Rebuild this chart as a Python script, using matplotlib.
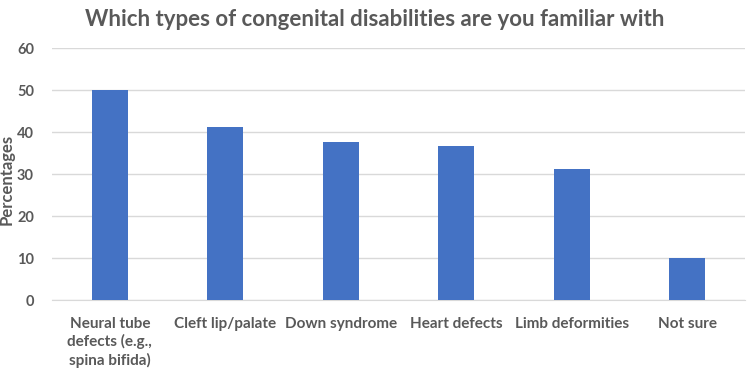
import matplotlib.pyplot as plt

# Survey results
categories = ["Neural tube\ndefects (e.g.,\nspina bifida)", "Cleft lip/palate", "Down syndrome",
              "Heart defects", "Limb deformities", "Not sure"]
percentages = [50.0, 41.2, 37.7, 36.7, 31.2, 10.0]
yticks = [0, 10, 20, 30, 40, 50, 60]

plt.rcParams['font.family'] = ['Lato', 'DejaVu Sans']
text_color = "#595959"

fig = plt.figure(figsize=(7.49, 3.69), dpi=100)
ax = fig.add_axes([52 / 749, 1 - 300 / 369, 693 / 749, 252 / 369])

x = list(range(len(categories)))
ax.bar(x, percentages, width=0.31, color="#4472C4", zorder=3)

ax.set_xlim(-0.5, len(categories) - 0.5)
ax.set_ylim(0, 60)
ax.set_yticks(yticks)
ax.set_xticks(x)
ax.set_xticklabels(categories, fontsize=11, color=text_color, fontweight="bold", linespacing=1.3)
ax.tick_params(axis="y", labelsize=10.5, labelcolor=text_color, length=0, pad=13)
ax.tick_params(axis="x", length=0, pad=12)
for lbl in ax.get_yticklabels():
    lbl.set_fontweight("bold")

ax.grid(axis="y", color="#D9D9D9", linewidth=1, zorder=0)
for side in ["top", "right", "left"]:
    ax.spines[side].set_visible(False)
ax.spines["bottom"].set_color("#D9D9D9")

ax.set_ylabel("Percentages", fontsize=12, color=text_color, fontweight="bold")
ax.yaxis.set_label_coords(-0.054, 0.48)
fig.text(0.5, 1 - 19 / 369, "Which types of congenital disabilities are you familiar with",
         ha="center", va="center", fontsize=16, fontweight="bold", color=text_color)

plt.savefig("out.png", dpi=100)
